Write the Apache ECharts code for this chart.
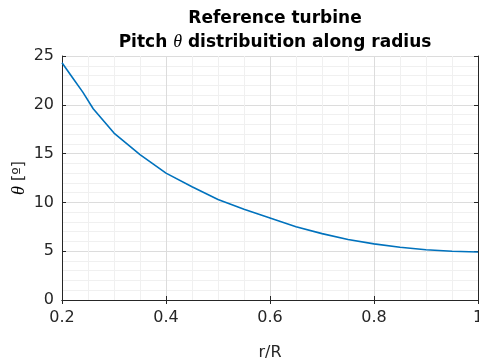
<!DOCTYPE html>
<html>
<head>
<meta charset="utf-8">
<script src="https://cdn.jsdelivr.net/npm/echarts@6/dist/echarts.min.js"></script>
<style>
  html, body { margin: 0; padding: 0; background: #fff; }
  #chart { width: 479px; height: 358px; }
</style>
</head>
<body>
<div id="chart"></div>
<script>
// r/R positions and pitch angle (deg)
const radius = [0.2, 0.22, 0.24, 0.26, 0.3, 0.35, 0.4, 0.45, 0.5, 0.55, 0.6, 0.65, 0.7, 0.75, 0.8, 0.85, 0.9, 0.95, 1.0]
const pitch = [24.3, 22.8, 21.3, 19.6, 17.1, 14.9, 13.0, 11.6, 10.3, 9.3, 8.4, 7.5, 6.8, 6.2, 5.75, 5.4, 5.15, 5.0, 4.92]

const titleLines = ["Reference turbine", "Pitch {i|θ} distribuition along radius"]
const xName = "r/R"
const yName = "{i|θ} [º]"

const axisColor = "#262626"
const font = "'DejaVu Sans', sans-serif"

const chart = echarts.init(document.getElementById("chart"))

const italicTheta = {
  fontFamily: "'Liberation Serif', serif",
  fontStyle: "italic",
  fontSize: 18,
  color: "#000",
}

const baseAxis = {
  axisLine: { show: true, lineStyle: { color: axisColor, width: 1 } },
  axisTick: { show: true, inside: true, length: 4, lineStyle: { color: axisColor } },
  axisLabel: { color: axisColor, fontSize: 16, fontFamily: font },
}

const option = {
  backgroundColor: "#fff",
  animation: false,
  title: {
    text: titleLines.join("\n"),
    left: 270,
    top: 2,
    textAlign: "center",
    textStyle: {
      fontFamily: font,
      fontWeight: "bold",
      fontSize: 17,
      color: "#000",
      lineHeight: 23.5,
      rich: {
        i: Object.assign({}, italicTheta, { fontWeight: "normal", lineHeight: 23.5 }),
      },
    },
  },
  grid: { left: 62, right: 1, top: 56, bottom: 58, outerBoundsMode: "none", containLabel: false },
  xAxis: [
    Object.assign({}, baseAxis, {
      type: "value",
      min: 0.2,
      max: 1,
      interval: 0.2,
      name: xName,
      nameLocation: "middle",
      nameGap: 45,
      nameMoveOverlap: false,
      nameTextStyle: { color: axisColor, fontSize: 16, fontFamily: font },
      axisLabel: Object.assign({}, baseAxis.axisLabel, {
        margin: 10,
        formatter: (v) => String(+v.toFixed(1)),
      }),
      splitLine: { show: true, lineStyle: { color: "#dcdcdc", width: 1 } },
      minorTick: { show: false, splitNumber: 4 },
      minorSplitLine: { show: true, lineStyle: { color: "#f0f0f0", width: 1 } },
    }),
    Object.assign({}, baseAxis, {
      type: "value",
      position: "top",
      min: 0.2,
      max: 1,
      interval: 0.2,
      axisLabel: { show: false },
      splitLine: { show: false },
    }),
  ],
  yAxis: [
    Object.assign({}, baseAxis, {
      type: "value",
      min: 0,
      max: 25,
      interval: 5,
      name: yName,
      nameLocation: "middle",
      nameGap: 34,
      nameMoveOverlap: false,
      nameRotate: 90,
      nameTextStyle: {
        color: axisColor,
        fontSize: 16,
        fontFamily: font,
        rich: { i: italicTheta },
      },
      axisLabel: Object.assign({}, baseAxis.axisLabel, { margin: 8 }),
      splitLine: { show: true, lineStyle: { color: "#dcdcdc", width: 1 } },
      minorTick: { show: false, splitNumber: 5 },
      minorSplitLine: { show: true, lineStyle: { color: "#f0f0f0", width: 1 } },
    }),
    Object.assign({}, baseAxis, {
      type: "value",
      position: "right",
      min: 0,
      max: 25,
      interval: 5,
      axisLabel: { show: false },
      splitLine: { show: false },
    }),
  ],
  series: [
    {
      type: "line",
      data: radius.map((r, i) => [r, pitch[i]]),
      showSymbol: false,
      smooth: false,
      lineStyle: { color: "#0072BD", width: 1.6 },
    },
  ],
}

chart.setOption(option)
</script>
</body>
</html>
